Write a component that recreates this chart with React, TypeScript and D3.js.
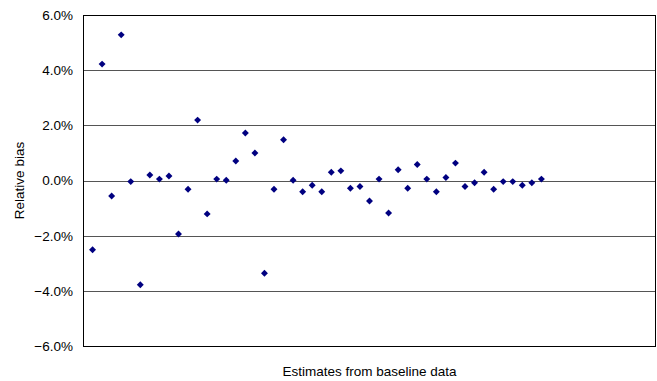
import React from "react";
import * as d3 from "d3";

// relative bias (%) for each estimate, in order
const biasValues = [
  -2.51, 4.22, -0.56, 5.28, -0.04, -3.78, 0.2, 0.05, 0.16, -1.94,
  -0.32, 2.19, -1.21, 0.05, 0.01, 0.71, 1.72, 1.0, -3.36, -0.32,
  1.48, 0.01, -0.41, -0.17, -0.41, 0.3, 0.35, -0.28, -0.22, -0.74,
  0.05, -1.18, 0.39, -0.28, 0.58, 0.05, -0.41, 0.11, 0.63, -0.22,
  -0.08, 0.3, -0.32, -0.04, -0.04, -0.17, -0.08, 0.05,
];
const yTicks = [-6, -4, -2, 0, 2, 4, 6];
const xDomain = [0, 60];

const width = 657;
const height = 381;
const margin = { top: 15, right: 1, bottom: 35, left: 83 };

const App = () => {
  const x = d3
    .scaleLinear()
    .domain(xDomain)
    .range([margin.left, width - margin.right]);
  const y = d3
    .scaleLinear()
    .domain([-6, 6])
    .range([height - margin.bottom, margin.top]);

  const diamond = d3.symbol(d3.symbolSquare, 24)();
  const font = "'Liberation Sans', Arial, sans-serif";
  const plotW = width - margin.right - margin.left;
  const plotH = height - margin.bottom - margin.top;

  return (
    <svg
      width={width}
      height={height}
      style={{ position: "absolute", left: 0, top: 0, background: "#fff" }}
      fontFamily={font}
    >
      {/* gridlines */}
      {yTicks.map((t) => (
        <line
          key={"g" + t}
          x1={margin.left}
          x2={width - margin.right}
          y1={Math.round(y(t)) + 0.5}
          y2={Math.round(y(t)) + 0.5}
          stroke="#555"
          strokeWidth={1}
        />
      ))}
      {/* plot frame */}
      <rect
        x={margin.left + 0.5}
        y={margin.top + 0.5}
        width={plotW - 1}
        height={plotH}
        fill="none"
        stroke="#000"
        strokeWidth={1}
      />
      {/* tick labels */}
      {yTicks.map((t) => (
        <text
          key={"t" + t}
          x={margin.left - 10}
          y={y(t)}
          dy="0.36em"
          textAnchor="end"
          fontSize={13.5}
          fill="#000"
        >
          {d3.format(".1f")(t) + "%"}
        </text>
      ))}
      {/* points */}
      {biasValues.map((v, i) => (
        <path
          key={"p" + i}
          d={diamond}
          transform={`translate(${x(i + 1)},${y(v)}) rotate(45)`}
          fill="#000080"
        />
      ))}
      {/* axis titles */}
      <text
        x={margin.left + plotW / 2}
        y={376}
        textAnchor="middle"
        fontSize={13.5}
        fill="#000"
      >
        Estimates from baseline data
      </text>
      <text
        transform={`translate(24,${margin.top + plotH / 2}) rotate(-90)`}
        textAnchor="middle"
        fontSize={13.5}
        fill="#000"
      >
        Relative bias
      </text>
    </svg>
  );
};

export default App;
